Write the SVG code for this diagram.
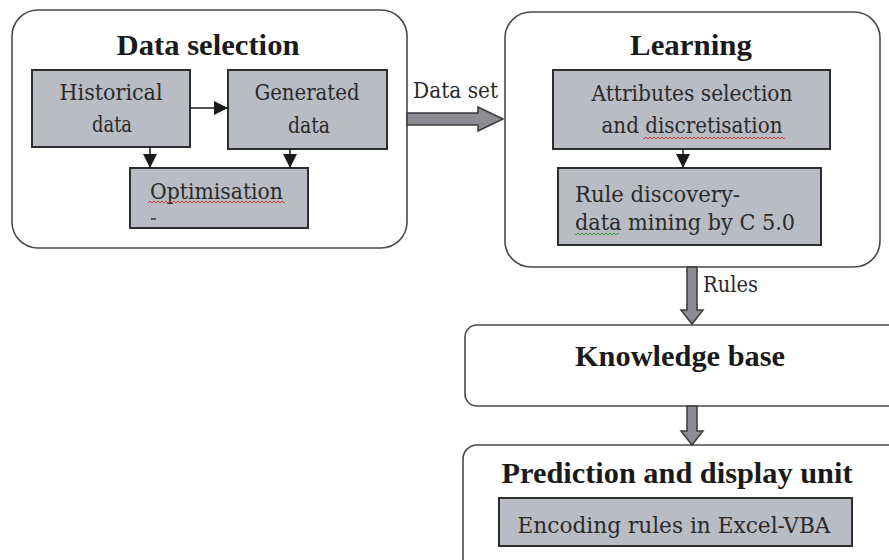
<svg xmlns="http://www.w3.org/2000/svg" width="889" height="560" viewBox="0 0 889 560">
<style>
.outer{fill:#fff;stroke:#4a4a4a;stroke-width:1.6}
.inner{fill:#b9bcc3;stroke:#2e2e2e;stroke-width:2}
.title{font-family:"Liberation Serif",serif;font-weight:bold;font-size:30px;fill:#1a1a1a;text-anchor:middle}
.txt{font-family:"DejaVu Serif","Liberation Serif",serif;font-size:22px;fill:#2a2a2a}
.mid{text-anchor:middle}
.big{fill:#8b8d92;stroke:#3a3a3a;stroke-width:1.5}
.thin{stroke:#1a1a1a;stroke-width:1.5;fill:none}
</style>
<defs>
<marker id="ah" markerUnits="userSpaceOnUse" markerWidth="14" markerHeight="14" viewBox="0 0 14 14" refX="14" refY="7" orient="auto">
<path d="M0,0 L14,7 L0,14 Z" fill="#1a1a1a"/>
</marker>
<pattern id="wred" patternUnits="userSpaceOnUse" width="4" height="4">
<path d="M0,3 L2,1 L4,3" fill="none" stroke="#d23c3c" stroke-width="1"/>
</pattern>
<pattern id="wgreen" patternUnits="userSpaceOnUse" width="4" height="4">
<path d="M0,3 L2,1 L4,3" fill="none" stroke="#3c9a3c" stroke-width="1"/>
</pattern>
</defs>

<g id="data-selection">
<rect class="outer" x="12" y="10" width="395" height="238" rx="26"/>
<text class="title" x="208" y="55" textLength="183" lengthAdjust="spacingAndGlyphs">Data selection</text>
</g>
<g id="historical">
<rect class="inner" x="32" y="70" width="158" height="77"/>
<text class="txt mid" x="111" y="100" textLength="103" lengthAdjust="spacingAndGlyphs">Historical</text>
<text class="txt mid" x="112" y="132" textLength="40" lengthAdjust="spacingAndGlyphs">data</text>
</g>
<g id="generated">
<rect class="inner" x="228" y="70" width="159" height="79"/>
<text class="txt mid" x="307" y="100" textLength="105" lengthAdjust="spacingAndGlyphs">Generated</text>
<text class="txt mid" x="309" y="133" textLength="42" lengthAdjust="spacingAndGlyphs">data</text>
</g>
<g id="optimisation">
<rect class="inner" x="130" y="168" width="178" height="60"/>
<text class="txt" x="150" y="199" textLength="133" lengthAdjust="spacingAndGlyphs">Optimisation</text>
<rect x="148" y="201" width="137" height="4" fill="url(#wred)"/>
<line x1="151" y1="219" x2="156" y2="219" stroke="#333" stroke-width="1.5"/>
</g>

<g id="learning">
<rect class="outer" x="505" y="12" width="375" height="255" rx="26"/>
<text class="title" x="691" y="55" textLength="122" lengthAdjust="spacingAndGlyphs">Learning</text>
</g>
<g id="attributes">
<rect class="inner" x="553" y="70" width="277" height="79"/>
<text class="txt mid" x="692" y="101" textLength="201" lengthAdjust="spacingAndGlyphs">Attributes selection</text>
<text class="txt mid" x="692" y="133" textLength="181" lengthAdjust="spacingAndGlyphs">and discretisation</text>
<rect x="643" y="135" width="142" height="4" fill="url(#wred)"/>
</g>
<g id="rule-discovery">
<rect class="inner" x="558" y="168" width="263" height="77"/>
<text class="txt" x="575" y="202" textLength="165" lengthAdjust="spacingAndGlyphs">Rule discovery-</text>
<text class="txt" x="575" y="230" textLength="220" lengthAdjust="spacingAndGlyphs">data mining by C 5.0</text>
<rect x="575" y="232" width="44" height="4" fill="url(#wgreen)"/>
</g>

<g id="knowledge-base">
<rect class="outer" x="465" y="325" width="440" height="81" rx="12"/>
<text class="title" x="680" y="366" textLength="210" lengthAdjust="spacingAndGlyphs">Knowledge base</text>
</g>
<g id="prediction">
<rect class="outer" x="463" y="445" width="440" height="130" rx="14"/>
<text class="title" x="677" y="483" textLength="351" lengthAdjust="spacingAndGlyphs">Prediction and display unit</text>
</g>
<g id="encoding">
<rect class="inner" x="499" y="498" width="353" height="48"/>
<text class="txt mid" x="674" y="533" textLength="313" lengthAdjust="spacingAndGlyphs">Encoding rules in Excel-VBA</text>
</g>

<g id="connectors">
<line class="thin" x1="190" y1="108" x2="228" y2="108" marker-end="url(#ah)"/>
<line class="thin" x1="150" y1="147" x2="150" y2="168" marker-end="url(#ah)"/>
<line class="thin" x1="290" y1="149" x2="290" y2="168" marker-end="url(#ah)"/>
<line class="thin" x1="683" y1="149" x2="683" y2="168" marker-end="url(#ah)"/>
<path class="big" d="M407,113 L478,113 L478,107 L503,119 L478,131 L478,125 L407,125 Z"/>
<text class="txt" x="413" y="98" textLength="85" lengthAdjust="spacingAndGlyphs">Data set</text>
<path class="big" d="M687,267 L697,267 L697,310 L703,310 L692,324 L681,310 L687,310 Z"/>
<text class="txt" x="703" y="292" textLength="55" lengthAdjust="spacingAndGlyphs">Rules</text>
<path class="big" d="M687,406 L697,406 L697,431 L703,431 L692,445 L681,431 L687,431 Z"/>
</g>
</svg>
